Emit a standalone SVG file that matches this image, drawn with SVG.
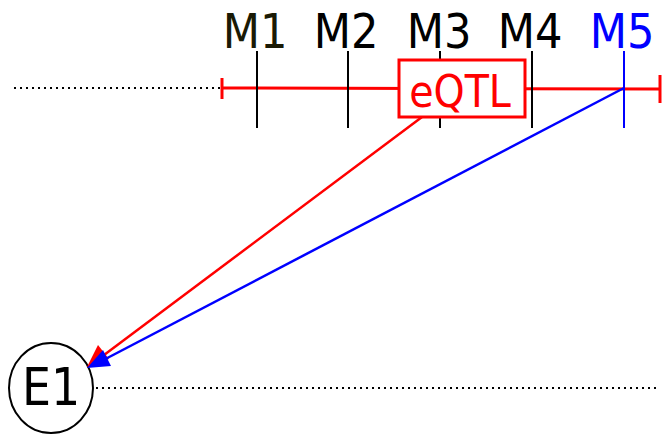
<svg xmlns="http://www.w3.org/2000/svg" width="664" height="435" viewBox="0 0 664 435">
<style>
.lbl{font-family:"DejaVu Sans Condensed","DejaVu Sans",sans-serif;font-stretch:semi-condensed;font-size:48px;text-anchor:middle}
.tick{stroke:#000;stroke-width:2}
.dot{stroke:#000;stroke-width:2;stroke-dasharray:2,4;fill:none}
</style>
<g id="chromosome">
<line class="dot" x1="14" y1="88" x2="220" y2="88"/>
<line x1="222" y1="88" x2="660" y2="89" stroke="#f00" stroke-width="3"/>
<line x1="222" y1="78" x2="222" y2="99" stroke="#f00" stroke-width="3"/>
<line x1="660" y1="75" x2="660" y2="103" stroke="#f00" stroke-width="3"/>
</g>
<g id="M1"><line class="tick" x1="257" y1="51" x2="257" y2="128"/><text class="lbl" x="255" y="48" fill="#1a1a05">M1</text></g>
<g id="M2"><line class="tick" x1="348" y1="51" x2="348" y2="128"/><text class="lbl" x="346" y="48">M2</text></g>
<g id="M3"><line class="tick" x1="440" y1="51" x2="440" y2="128"/><text class="lbl" x="439" y="48">M3</text></g>
<g id="M4"><line class="tick" x1="532" y1="51" x2="532" y2="128"/><text class="lbl" x="530" y="48">M4</text></g>
<g id="M5"><line x1="624" y1="51" x2="624" y2="128" stroke="#00f" stroke-width="2"/><text class="lbl" x="622" y="48" fill="#00f">M5</text></g>
<g id="eQTL"><rect x="399" y="60" width="126" height="57" fill="#fff" stroke="#f00" stroke-width="3"/><text class="lbl" x="460" y="107" fill="#f00" style="font-size:44px">eQTL</text></g>
<g id="E1"><ellipse cx="51" cy="388" rx="42" ry="45" fill="#fff" stroke="#000" stroke-width="2"/><text class="lbl" x="51" y="405" style="font-size:51px">E1</text></g>
<line class="dot" x1="96" y1="388" x2="660" y2="388"/>
<g id="connectors">
<line x1="422" y1="117" x2="92" y2="364" stroke="#f00" stroke-width="2.5"/>
<path d="M87,367 L98,345 L109,359 Z" fill="#f00"/>
<line x1="624" y1="88" x2="92" y2="366" stroke="#00f" stroke-width="2.5"/>
<path d="M87,368 L103,350 L111,366 Z" fill="#00f"/>
</g>
</svg>
